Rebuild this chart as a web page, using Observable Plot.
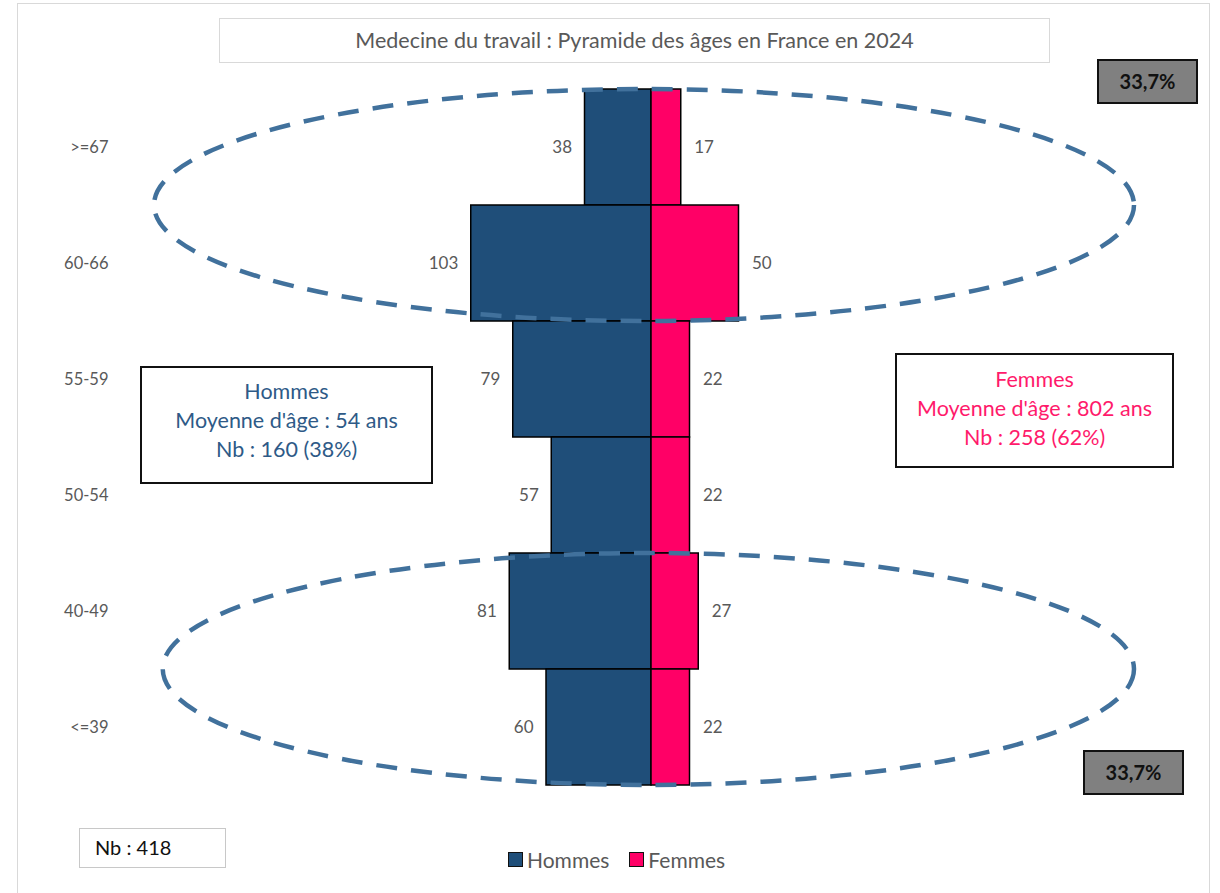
<!DOCTYPE html>
<html>
<head>
<meta charset="utf-8">
<script src="https://cdn.jsdelivr.net/npm/d3@7"></script>
<script src="https://cdn.jsdelivr.net/npm/@observablehq/plot@0.6"></script>
<style>
  html, body { margin: 0; padding: 0; background: #fff; overflow: hidden; }
  #wrap { position: relative; width: 1220px; height: 893px; font-family: Lato, "Open Sans", sans-serif; }
  #frame { position: absolute; left: 17px; top: 3px; width: 1193px; height: 900px; border: 1.5px solid #d9d9d9; box-sizing: border-box; }
  #chart { position: absolute; left: 0; top: 0; }
  .box { position: absolute; box-sizing: border-box; text-align: center; }
  #title { left: 219px; top: 18px; width: 831px; height: 45px; border: 1.5px solid #d9d9d9; color: #595959; font-size: 21.5px; line-height: 42px; background: #fff; }
  .pct { width: 101px; height: 45px; background: #808080; border: 2px solid #111; font-weight: bold; font-size: 20px; line-height: 41px; color: #111; }
  #hommes { left: 140px; top: 366px; width: 293px; height: 118px; border: 2px solid #111; color: #2E5A87; font-size: 21.5px; line-height: 29px; padding-top: 9px; background: #fff; }
  #femmes { left: 895px; top: 353px; width: 279px; height: 115px; border: 2px solid #111; color: #FF1A6B; font-size: 21.5px; line-height: 29px; padding-top: 10px; background: #fff; }
  #nb { left: 79px; top: 828px; width: 147px; height: 40px; border: 1.5px solid #c8c8c8; color: #111; font-size: 20px; line-height: 37px; text-align: left; padding-left: 15px; }
  #legend { position: absolute; left: 508px; top: 847px; font-size: 21px; color: #595959; display: flex; align-items: center; }
  .sw { display: inline-block; width: 13px; height: 13px; border: 1.5px solid #111; margin-right: 4px; }
</style>
</head>
<body>
<div id="wrap">
  <div id="frame"></div>
  <div id="chart"></div>
  <div class="box" id="title"></div>
  <div class="box pct" id="pctTop" style="left:1097px;top:59px;"></div>
  <div class="box pct" id="pctBottom" style="left:1083px;top:750px;"></div>
  <div class="box" id="hommes"></div>
  <div class="box" id="femmes"></div>
  <div class="box" id="nb"></div>
  <div id="legend"></div>
</div>
<script>
// ---- Data ----
const ages = [">=67", "60-66", "55-59", "50-54", "40-49", "<=39"];
const hommes = [38, 103, 79, 57, 81, 60];
const femmes = [17, 50, 22, 22, 27, 22];
const seriesNames = ["Hommes", "Femmes"];
const seriesColors = ["#1F4E79", "#FF0066"];
const titleText = "Medecine du travail : Pyramide des âges en France en 2024";
const hommesInfo = ["Hommes", "Moyenne d'âge : 54 ans", "Nb : 160 (38%)"];
const femmesInfo = ["Femmes", "Moyenne d'âge : 802 ans", "Nb : 258 (62%)"];
const pctTopText = "33,7%";
const pctBottomText = "33,7%";
const totalText = "Nb : 418";
// highlighted groups: [upper age group, lower age group]
const highlightTop = [">=67", "60-66"];
const highlightBottom = ["40-49", "<=39"];

const rows = ages.map((a, i) => ({age: a, h: hommes[i], f: femmes[i]}));

const W = 1220, H = 893;
const plot = Plot.plot({
  width: W,
  height: H,
  marginTop: 89,
  marginBottom: 108,
  marginLeft: 126,
  marginRight: 114,
  style: {fontFamily: "Lato, 'Open Sans', sans-serif", fontSize: "16.5px", color: "#595959", background: "transparent"},
  x: {domain: [-300, 260], axis: null},
  y: {domain: ages, padding: 0, label: null, tickSize: 0, tickPadding: 18},
  marks: [
    Plot.barX(rows, {y: "age", x1: 0, x2: d => -d.h, fill: seriesColors[0], stroke: "#000", strokeWidth: 1.5}),
    Plot.barX(rows, {y: "age", x1: 0, x2: d => d.f, fill: seriesColors[1], stroke: "#000", strokeWidth: 1.5}),
    Plot.ruleX([0], {stroke: "#e0e0e0", strokeWidth: 1.5, y1: ages[0], y2: ages[ages.length - 1]}),
    Plot.text(rows, {y: "age", x: d => -d.h, text: d => String(d.h), dx: -13, textAnchor: "end", fill: "#595959", fontSize: 17}),
    Plot.text(rows, {y: "age", x: d => d.f, text: d => String(d.f), dx: 13, textAnchor: "start", fill: "#595959", fontSize: 17})
  ]
});
document.getElementById("chart").appendChild(plot);

// fix center rule to span full bands
const ys = plot.scale("y");
const xs = plot.scale("x");
const bw = ys.bandwidth;
const yPos = a => ys.apply(a);
const svg = d3.select(plot);
svg.selectAll("g[aria-label='rule'] line")
  .attr("y1", yPos(ages[0]))
  .attr("y2", yPos(ages[ages.length - 1]) + bw);

// dashed ellipses highlighting groups, positioned with the plot's scales
function addEllipse(groups, xLeft, xRight) {
  const top = yPos(groups[0]);
  const bottom = yPos(groups[1]) + bw;
  const x0 = xs.apply(xLeft), x1 = xs.apply(xRight);
  svg.append("ellipse")
    .attr("cx", (x0 + x1) / 2)
    .attr("cy", (top + bottom) / 2)
    .attr("rx", (x1 - x0) / 2)
    .attr("ry", (bottom - top) / 2)
    .attr("fill", "none")
    .attr("stroke", "#41719C")
    .attr("stroke-width", 4.5)
    .attr("stroke-dasharray", "21 14");
}
addEllipse(highlightTop, -284, 276);
addEllipse(highlightBottom, -279, 276);

// text boxes
document.getElementById("title").textContent = titleText;
document.getElementById("pctTop").textContent = pctTopText;
document.getElementById("pctBottom").textContent = pctBottomText;
document.getElementById("hommes").innerHTML = hommesInfo.map(t => `<div>${t}</div>`).join("");
document.getElementById("femmes").innerHTML = femmesInfo.map(t => `<div>${t}</div>`).join("");
document.getElementById("nb").textContent = totalText;
document.getElementById("legend").innerHTML = seriesNames.map((n, i) =>
  `<span class="sw" style="background:${seriesColors[i]}"></span><span style="margin-right:${i === 0 ? 20 : 0}px">${n}</span>`).join("");
</script>
</body>
</html>
